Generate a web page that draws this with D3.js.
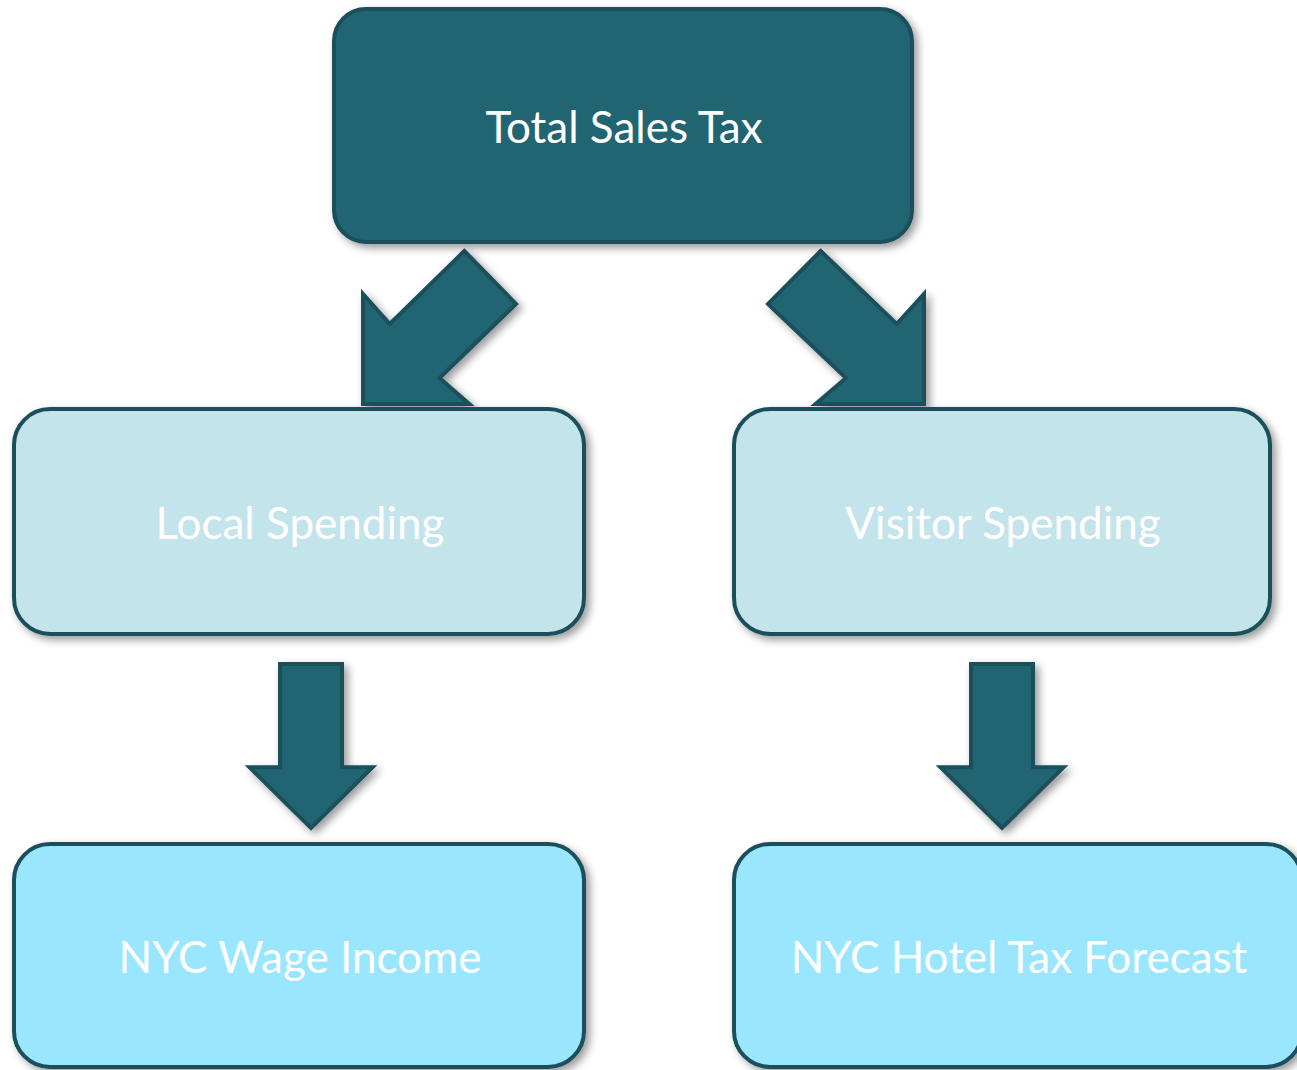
<!DOCTYPE html>
<html>
<head>
<meta charset="utf-8">
<script src="https://cdn.jsdelivr.net/npm/d3@7"></script>
<style>
  html, body { margin: 0; padding: 0; background: #ffffff; overflow: hidden; }
  svg { display: block; }
</style>
</head>
<body>
<svg id="chart"></svg>
<script>
// node labels, tier (row) and column of each box
const labels = ["Total Sales Tax", "Local Spending", "Visitor Spending", "NYC Wage Income", "NYC Hotel Tax Forecast"];
const tiers = [0, 1, 1, 2, 2];
const columns = ["center", "left", "right", "left", "right"];
// links between boxes (source index, target index)
const links = [[0, 1], [0, 2], [1, 3], [2, 4]];

const width = 1297, height = 1070;
const fills = ["#246572", "#c4e4ec", "#9ae6ff"];
const edge = "#1a4f5b";

const svg = d3.select("#chart").attr("width", width).attr("height", height);

// drop shadow used by every shape
const defs = svg.append("defs");
const f = defs.append("filter").attr("id", "shadow")
  .attr("x", "-10%").attr("y", "-10%").attr("width", "130%").attr("height", "130%");
f.append("feGaussianBlur").attr("in", "SourceAlpha").attr("stdDeviation", 4).attr("result", "b");
f.append("feOffset").attr("in", "b").attr("dx", 4).attr("dy", 4).attr("result", "o");
f.append("feComponentTransfer").attr("in", "o").attr("result", "s")
  .append("feFuncA").attr("type", "linear").attr("slope", 0.4);
const m = f.append("feMerge");
m.append("feMergeNode").attr("in", "s");
m.append("feMergeNode").attr("in", "SourceGraphic");

// layout: tier -> top / bottom, column -> left / right
const rowTop = d3.scaleOrdinal().domain([0, 1, 2]).range([9, 409, 844]);
const rowBottom = d3.scaleOrdinal().domain([0, 1, 2]).range([242, 634, 1067]);
const colLeft = d3.scaleOrdinal().domain(["center", "left", "right"]).range([334, 14, 734]);
const colRight = d3.scaleOrdinal().domain(["center", "left", "right"]).range([912, 584, 1270]);

const nodes = labels.map((label, i) => {
  const x0 = colLeft(columns[i]);
  let x1 = colRight(columns[i]);
  if (tiers[i] === 2 && columns[i] === "right") x1 = 1302; // last box runs off the page
  return { label, tier: tiers[i], x0, x1, y0: rowTop(tiers[i]), y1: rowBottom(tiers[i]) };
});

// arrows
const diagShape = [[0.662, 0], [1, 0.346], [0.5, 0.83], [0.695, 1], [0, 1], [0, 0.281], [0.175, 0.477]];
const downShape = [[-0.252, 0], [0.252, 0], [0.252, 0.63], [0.5, 0.63], [0, 1], [-0.5, 0.63], [-0.252, 0.63]];

const arrowG = svg.append("g");
links.forEach(([s, t]) => {
  const a = nodes[s], b = nodes[t];
  let pts;
  if (a.tier === 0) {
    const goesLeft = columns[t] === "left";
    const y = d3.scaleLinear().range([a.y1 + 9, b.y0 - 5]);
    const x = goesLeft ? d3.scaleLinear().range([363, 516]) : d3.scaleLinear().range([924, 768]);
    pts = diagShape.map(([u, v]) => [x(u), y(v)]);
  } else {
    const cx = columns[t] === "left" ? 311 : 1002;
    const x = d3.scaleLinear().domain([-0.5, 0.5]).range([cx - 61.5, cx + 61.5]);
    const y = d3.scaleLinear().range([a.y1 + 30, b.y0 - 16]);
    pts = downShape.map(([u, v]) => [x(u), y(v)]);
  }
  arrowG.append("path")
    .attr("d", d3.line()(pts) + "Z")
    .attr("fill", fills[0])
    .attr("stroke", edge)
    .attr("stroke-width", 4)
    .attr("stroke-linejoin", "miter")
    .attr("filter", "url(#shadow)");
});

// boxes
const boxG = svg.selectAll("g.node").data(nodes).join("g").attr("class", "node");
boxG.append("rect")
  .attr("x", d => d.x0).attr("y", d => d.y0)
  .attr("width", d => d.x1 - d.x0).attr("height", d => d.y1 - d.y0)
  .attr("rx", d => d.tier === 0 ? 32 : 36)
  .attr("fill", d => fills[d.tier])
  .attr("stroke", edge)
  .attr("stroke-width", 4)
  .attr("filter", "url(#shadow)");

boxG.append("text")
  .attr("x", d => (d.x0 + d.x1) / 2 + 1)
  .attr("y", d => (d.y0 + d.y1) / 2 + 17)
  .attr("text-anchor", "middle")
  .attr("fill", "#ffffff")
  .style("font-family", "Lato, 'Open Sans', sans-serif")
  .style("font-size", "44px")
  .text(d => d.label);
</script>
</body>
</html>
